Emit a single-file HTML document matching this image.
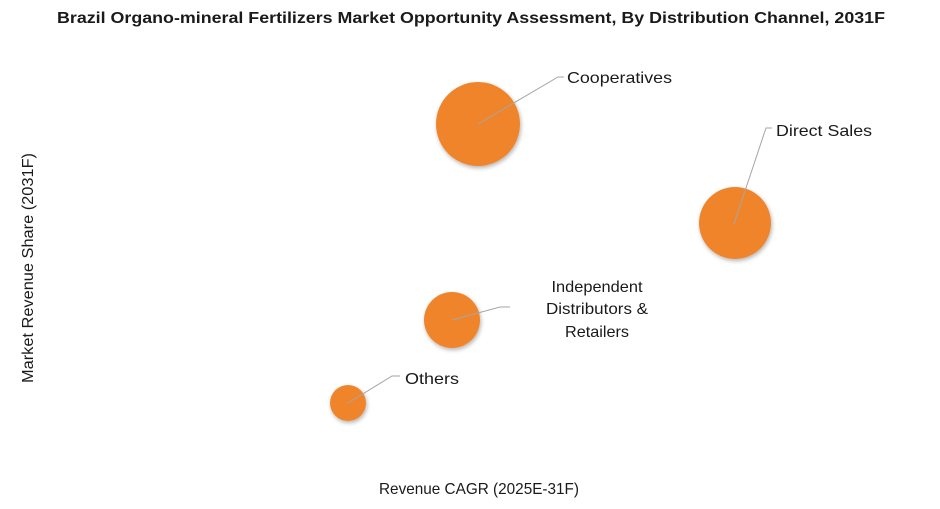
<!DOCTYPE html>
<html><head><meta charset="utf-8"><style>
html,body{margin:0;padding:0;background:#fff;}
svg{display:block;font-family:"Liberation Sans",sans-serif;}
</style></head><body>
<svg width="940" height="509" viewBox="0 0 940 509" xmlns="http://www.w3.org/2000/svg">
<defs><filter id="s" x="-30%" y="-30%" width="160%" height="160%"><feGaussianBlur in="SourceAlpha" stdDeviation="2"/><feOffset dx="1" dy="2"/><feComponentTransfer><feFuncA type="linear" slope="0.3"/></feComponentTransfer><feMerge><feMergeNode/><feMergeNode in="SourceGraphic"/></feMerge></filter></defs>
<text x="471" y="23" text-anchor="middle" font-size="16" font-weight="bold" fill="#1a1a1a" textLength="828" lengthAdjust="spacingAndGlyphs">Brazil Organo-mineral Fertilizers Market Opportunity Assessment, By Distribution Channel, 2031F</text>
<text transform="translate(33,268) rotate(-90)" text-anchor="middle" font-size="16" fill="#1a1a1a" textLength="230" lengthAdjust="spacingAndGlyphs">Market Revenue Share (2031F)</text>
<text x="479" y="494" text-anchor="middle" font-size="16" fill="#1a1a1a" textLength="200" lengthAdjust="spacingAndGlyphs">Revenue CAGR (2025E-31F)</text>
<g fill="#F0842C" filter="url(#s)">
<circle cx="478" cy="124" r="42"/>
<circle cx="735" cy="223" r="36"/>
<circle cx="452" cy="320" r="28"/>
<circle cx="348" cy="403" r="18"/>
</g>
<g stroke="#a6a6a6" stroke-width="1" fill="none">
<polyline points="478,124 558,77 564,77"/>
<polyline points="734,224 766,128 772,128"/>
<polyline points="452,320 500,307 510,307"/>
<polyline points="348,403 392,376 400,376"/>
</g>
<g font-size="16" fill="#1a1a1a">
<text x="567" y="83" textLength="105" lengthAdjust="spacingAndGlyphs">Cooperatives</text>
<text x="776" y="136" textLength="96" lengthAdjust="spacingAndGlyphs">Direct Sales</text>
<text x="597" y="292" text-anchor="middle" textLength="91" lengthAdjust="spacingAndGlyphs">Independent</text>
<text x="597" y="314" text-anchor="middle" textLength="102" lengthAdjust="spacingAndGlyphs">Distributors &amp;</text>
<text x="597" y="337" text-anchor="middle" textLength="64" lengthAdjust="spacingAndGlyphs">Retailers</text>
<text x="405" y="384" textLength="54" lengthAdjust="spacingAndGlyphs">Others</text>
</g>
</svg>
</body></html>
